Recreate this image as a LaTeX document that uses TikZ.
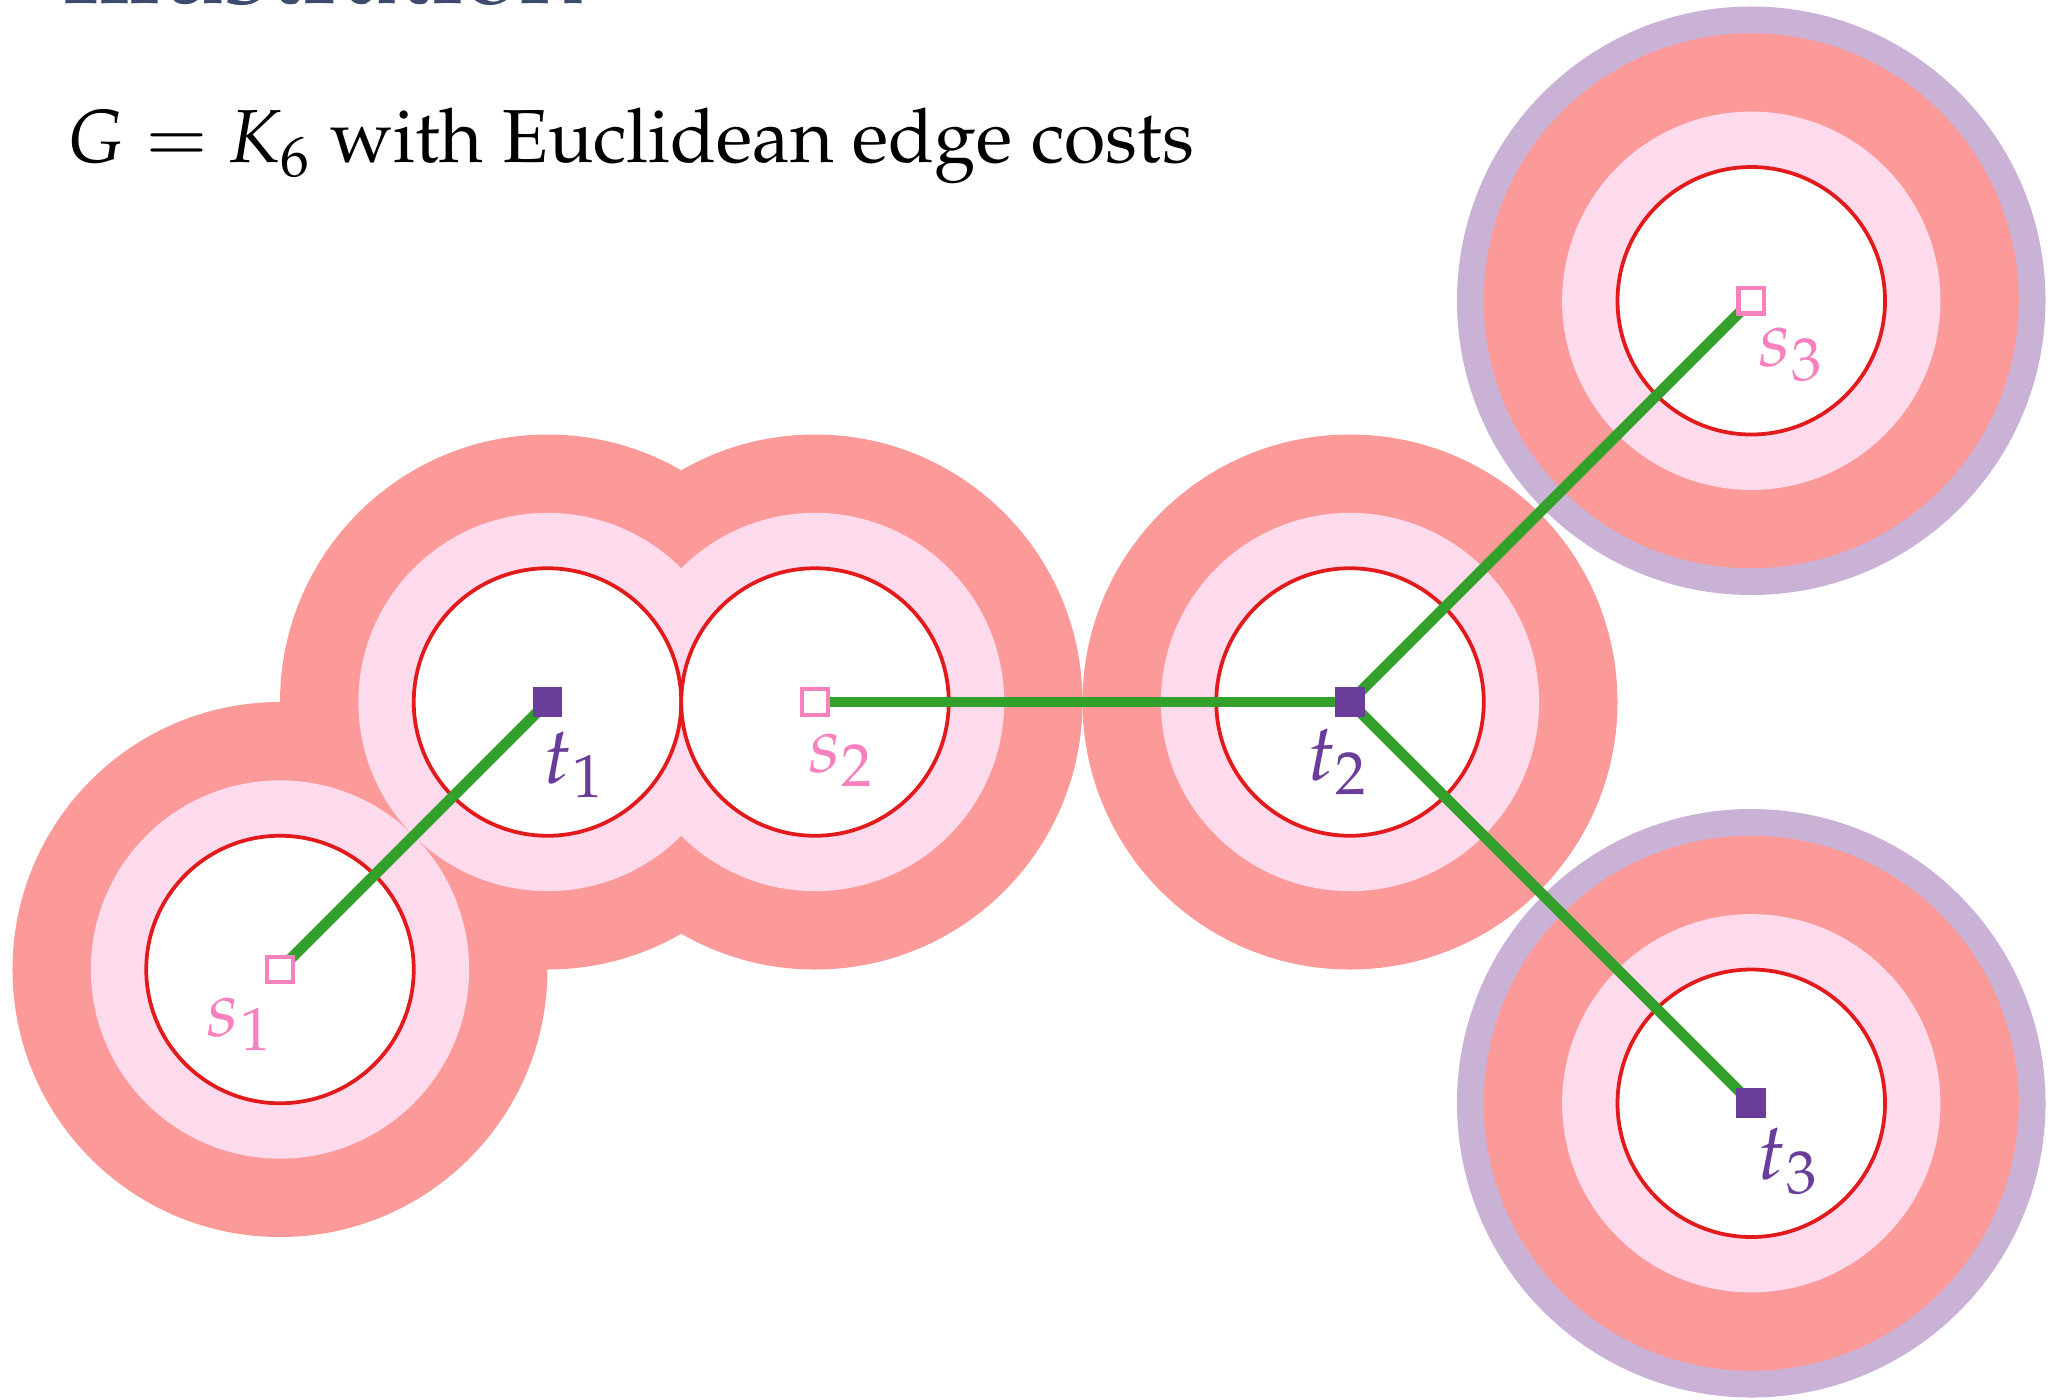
\documentclass[tikz,border=0pt]{standalone}
\usepackage[T1]{fontenc}
\usepackage{mathpazo}
\usetikzlibrary{calc}

\definecolor{moat}{HTML}{FB9A99}
\definecolor{ball}{HTML}{FDDAEC}
\definecolor{extra}{HTML}{CAB2D6}
\definecolor{rim}{HTML}{E31A1C}
\definecolor{treegreen}{HTML}{33A02C}
\definecolor{sinkpurple}{HTML}{6A3D9A}
\definecolor{srcpink}{HTML}{F781BF}
\definecolor{slate}{HTML}{3C4A6E}

\begin{document}
\begin{tikzpicture}[scale=2,
    src/.style={draw=srcpink, fill=white, line width=0.9pt, minimum size=0.19cm, inner sep=0pt},
    snk/.style={fill=sinkpurple, minimum size=0.222cm, inner sep=0pt},
    lab/.style={inner sep=0pt, font=\fontsize{17}{20}\selectfont},
    srclab/.style={lab, text=srcpink},
    snklab/.style={lab, text=sinkpurple},
    tree/.style={treegreen, line width=2.3pt}
]
\useasboundingbox (-1.0467,-1.6056) rectangle (6.6617,3.6243);

% titles
\node[anchor=base west, inner sep=0pt, text=slate, font=\fontsize{22.5}{27}\selectfont] (frametitle) at (-0.813,3.613) {Illustration};
\node[anchor=base west, inner sep=0pt, font=\fontsize{16}{19}\selectfont] (caption) at (-0.801,3.015) {$G = K_6$ with Euclidean edge costs};

% terminal positions
\coordinate (s1) at (0,0);
\coordinate (t1) at (1,1);
\coordinate (s2) at (2,1);
\coordinate (t2) at (4,1);
\coordinate (s3) at (5.5,2.5);
\coordinate (t3) at (5.5,-0.5);

% moats
\fill[extra] (s3) circle (1.1);
\fill[extra] (t3) circle (1.1);
\foreach \p in {s1,t1,s2,t2,s3,t3}
    \fill[moat] (\p) circle (1);
\foreach \p in {s1,t1,s2,t2,s3,t3}
    \fill[ball] (\p) circle (0.7071);
\foreach \p in {s1,t1,s2,t2,s3,t3}
    \filldraw[fill=white, draw=rim, line width=0.8pt] (\p) circle (0.5);

% steiner forest
\draw[tree] (s1) -- (t1);
\draw[tree] (s2) -- (t2);
\draw[tree] (t2) -- (s3);
\draw[tree] (t2) -- (t3);

% terminals
\node[src] (s1box) at (s1) {};
\node[snk] (t1box) at (t1) {};
\node[src] (s2box) at (s2) {};
\node[snk] (t2box) at (t2) {};
\node[src] (s3box) at (s3) {};
\node[snk] (t3box) at (t3) {};

\node[srclab] (s1lab) at ($(s1)+(-0.150,-0.205)$) {$s_1$};
\node[snklab] (t1lab) at ($(t1)+(0.100,-0.235)$) {$t_1$};
\node[srclab] (s2lab) at ($(s2)+(0.097,-0.218)$) {$s_2$};
\node[snklab] (t2lab) at ($(t2)+(-0.045,-0.225)$) {$t_2$};
\node[srclab] (s3lab) at ($(s3)+(0.150,-0.200)$) {$s_3$};
\node[snklab] (t3lab) at ($(t3)+(0.138,-0.215)$) {$t_3$};
\end{tikzpicture}
\end{document}
